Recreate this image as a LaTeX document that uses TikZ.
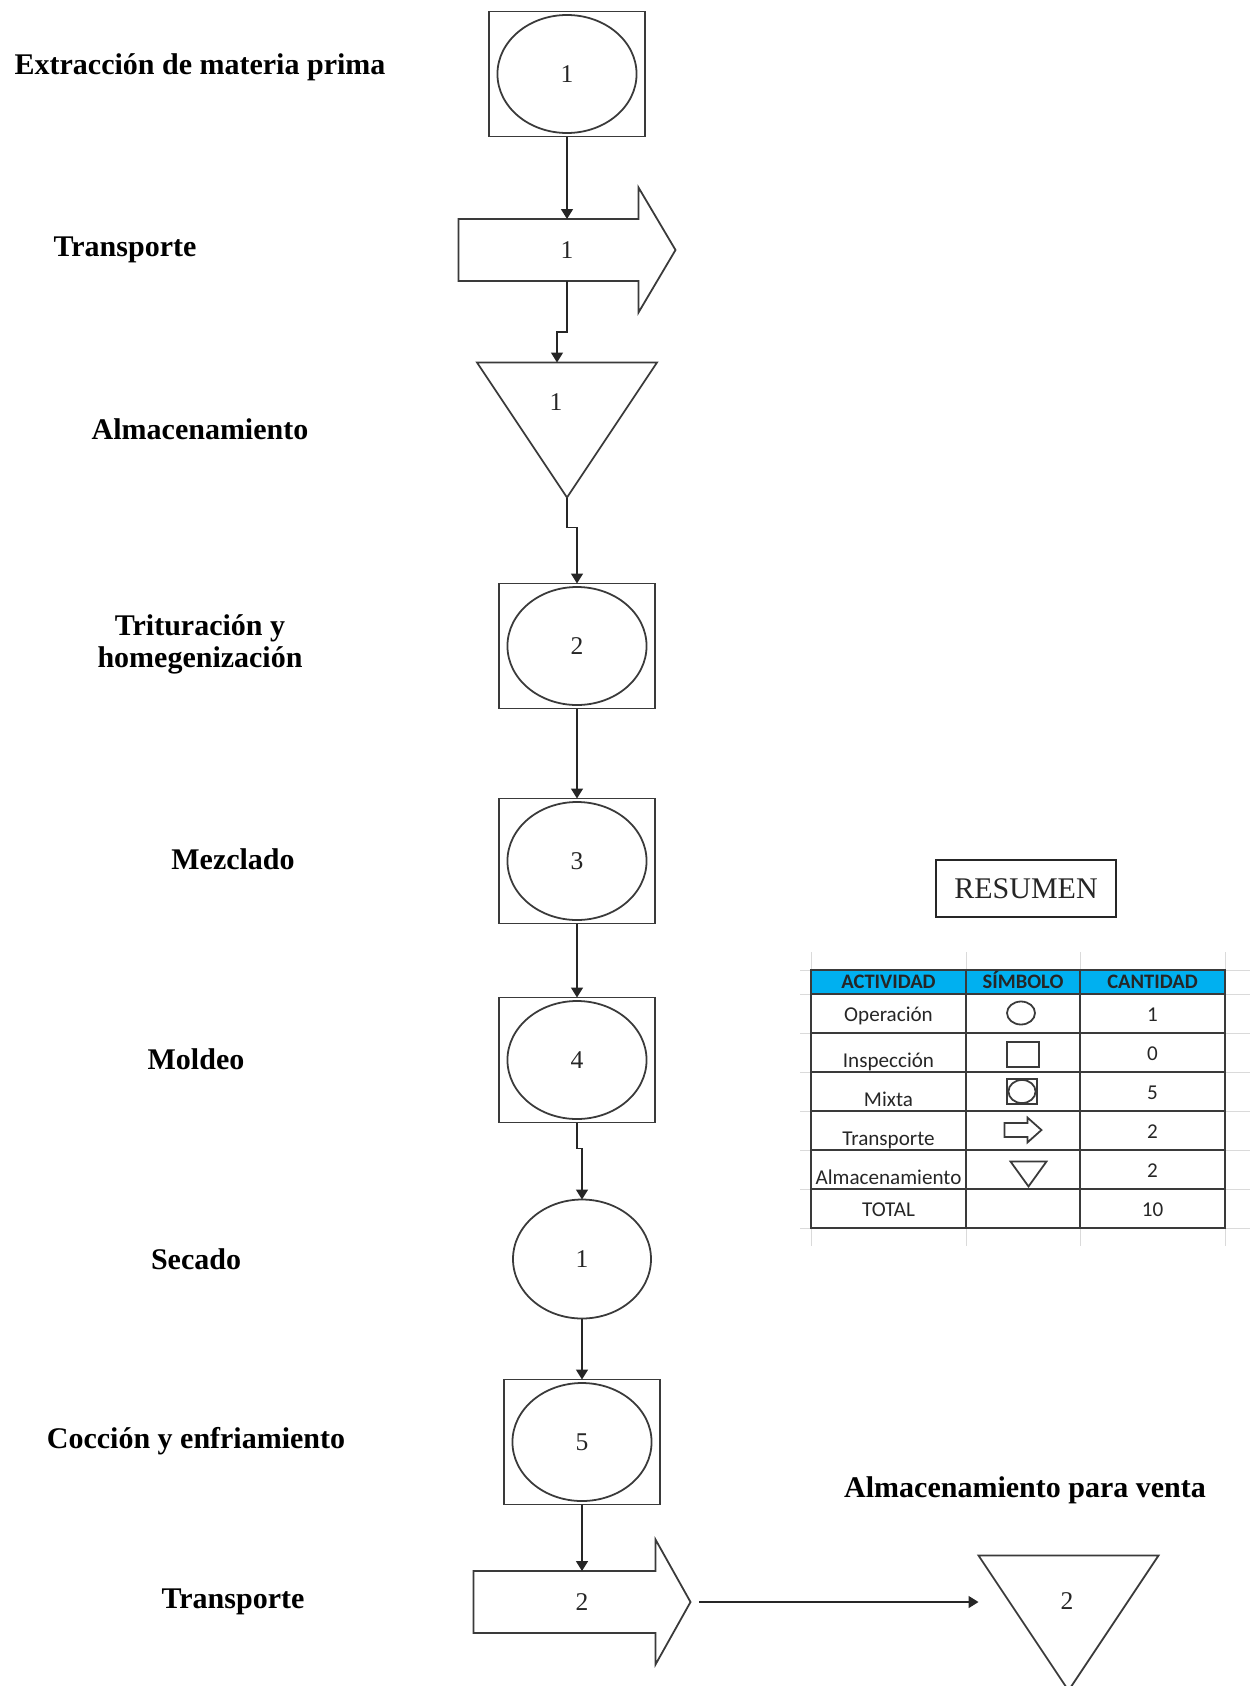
\documentclass[tikz,border=0pt]{standalone}
\usepackage{fontspec}
\setmainfont{Liberation Serif}
\newfontfamily\calibri{Carlito}
\usepackage{tikz}
\usetikzlibrary{positioning,shapes.geometric,arrows.meta,calc}
\definecolor{ink}{HTML}{262626}
\definecolor{outline}{HTML}{3A3A3A}
\definecolor{headblue}{HTML}{00B0F0}
\definecolor{sheetgrey}{HTML}{DADADA}
\tikzset{
    shapeline/.style={draw=outline, line width=0.8pt},
    numtext/.style={font=\fontsize{11.5}{13}\selectfont, text=ink},
    mixta/.style={rectangle, shapeline, minimum width=70.2pt, minimum height=56.25pt, inner sep=0pt, outer sep=0pt, numtext,
        path picture={\draw[shapeline] (path picture bounding box.center) ellipse [x radius=31.3pt, y radius=26.55pt];}},
    oper/.style={ellipse, shapeline, minimum width=62.1pt, minimum height=53.55pt, inner sep=0pt, outer sep=0pt, numtext},
    transp/.style={rectangle, minimum width=97.65pt, minimum height=56.25pt, inner sep=0pt, outer sep=0pt, numtext},
    almac/.style={rectangle, minimum width=81pt, minimum height=60.75pt, inner sep=0pt, outer sep=0pt},
    minioper/.style={ellipse, shapeline, minimum width=12.6pt, minimum height=10.35pt, inner sep=0pt},
    miniinsp/.style={rectangle, shapeline, minimum width=14.4pt, minimum height=11.25pt, inner sep=0pt},
    minimixta/.style={rectangle, shapeline, minimum width=13.5pt, minimum height=11.25pt, inner sep=0pt,
        path picture={\draw[shapeline] (path picture bounding box.center) ellipse [x radius=6.1pt, y radius=5.2pt];}},
    minitransp/.style={rectangle, minimum width=16.2pt, minimum height=10.8pt, inner sep=0pt},
    minialmac/.style={rectangle, minimum width=15.75pt, minimum height=10.8pt, inner sep=0pt},
    lbl/.style={font=\fontsize{13.5}{14.4}\selectfont\bfseries, align=center, text=black},
    sumbox/.style={rectangle, draw=ink, line width=0.8pt, minimum width=81pt, minimum height=25.65pt, font=\fontsize{13.5}{16}\selectfont, text=ink},
    flow/.style={-{Triangle[width=5.4pt,length=4.5pt]}, line width=0.7pt, draw=ink},
    cell/.style={font=\fontsize{9.5}{11}\selectfont\calibri, text=ink, inner sep=0pt, text height=6.8pt, text depth=2pt},
    headcell/.style={cell, font=\fontsize{9.25}{11}\selectfont\calibri\bfseries, text=black!85},
    tabline/.style={draw=outline, line width=0.7pt},
    sheet/.style={draw=sheetgrey, line width=0.4pt}
}
% outline of a block arrow: node, head length, body inset (px)
\newcommand{\transpoutline}[3]{%
    \draw[shapeline] ($(#1.north west)+(0,#3)$) -- ($(#1.north east)+(-#2,#3)$) -- ($(#1.north east)+(-#2,0)$)
        -- (#1.east) -- ($(#1.south east)+(-#2,0)$) -- ($(#1.south east)+(-#2,-#3)$) -- ($(#1.south west)+(0,-#3)$) -- cycle;
    \coordinate (#1-top) at ($(#1.north)+(0,#3)$);
    \coordinate (#1-bot) at ($(#1.south)+(0,-#3)$);}
% outline of a storage triangle
\newcommand{\storeoutline}[1]{%
    \draw[shapeline] (#1.north west) -- (#1.north east) -- (#1.south) -- cycle;}

\begin{document}
\begin{tikzpicture}[x=0.45pt, y=-0.45pt]
    \useasboundingbox (0,0) rectangle (1254,1686);
    \clip (0,0) rectangle (1254,1686);

    % process column
    \node[mixta] (op1) at (567,74) {1};
    \node[transp, below=22.95pt of op1] (tr1) {1};
    \node[almac, below=22.5pt of tr1, label={[numtext, xshift=-4.95pt, yshift=12.4pt]center:1}] (st1) {};
    \node[mixta, below=38.7pt of st1, xshift=4.5pt] (op2) {2};
    \node[mixta, below=40.5pt of op2] (op3) {3};
    \node[mixta, below=33.3pt of op3] (op4) {4};
    \node[oper, below=34.65pt of op4, xshift=2.25pt] (se1) {1};
    \node[mixta, below=27.45pt of se1] (op5) {5};
    \node[transp, below=15.75pt of op5] (tr2) {2};
    \node[almac, right=129.6pt of tr2, yshift=-9.45pt, label={[numtext, xshift=-0.7pt, yshift=9.7pt]center:2}] (st2) {};
    \transpoutline{tr1}{37}{31.5}
    \transpoutline{tr2}{35}{31.5}
    \storeoutline{st1}
    \storeoutline{st2}

    % activity names
    \node[lbl] (l-extr) at (200,67) {Extracción de materia prima};
    \node[lbl] (l-tr1) at (125,250) {Transporte};
    \node[lbl] (l-alm) at (200,429) {Almacenamiento};
    \node[lbl] (l-trit) at (200,644) {Trituración y\\homegenización};
    \node[lbl] (l-mez) at (233,859) {Mezclado};
    \node[lbl] (l-mol) at (196,1059) {Moldeo};
    \node[lbl] (l-sec) at (196,1259) {Secado};
    \node[lbl] (l-coc) at (196,1441) {Cocción y enfriamiento};
    \node[lbl] (l-tr2) at (233,1602) {Transporte};
    \node[lbl] (l-venta) at (1025,1490) {Almacenamiento para venta};

    % connectors
    \draw[flow] (op1.south) -- (op1.south |- tr1-top);
    \draw[flow] (tr1-bot) -- ++(0,51) -| ([xshift=-4.5pt]st1.north);
    \draw[flow] (st1.south) -- ++(0,30) -| (op2.north);
    \draw[flow] (op2) -- (op3);
    \draw[flow] (op3) -- (op4);
    \draw[flow] (op4.south) -- ++(0,26) -| (se1.north);
    \draw[flow] (se1) -- (op5);
    \draw[flow] (op5.south) -- (op5.south |- tr2-top);
    \draw[flow, shorten <=4pt] (tr2.east) -- (tr2.east -| st2.west);

    % summary
    \node[sumbox] (resumen) at (1026,888.5) {RESUMEN};
    \foreach \gx in {811,966,1080,1225} \draw[sheet] (\gx,952) -- (\gx,1246);
    \foreach \gy in {970,994,1033,1072,1111,1150,1189,1228} \draw[sheet] (800,\gy) -- (1250,\gy);
    \fill[headblue] (811,970) rectangle (1225,994);
    \draw[tabline] (811,970) rectangle (1225,1228);
    \foreach \gy in {994,1033,1072,1111,1150,1189} \draw[tabline] (811,\gy) -- (1225,\gy);
    \foreach \gx in {966,1080} \draw[tabline] (\gx,970) -- (\gx,1228);
    \node[headcell] (h-act) at (888.5,983) {ACTIVIDAD};
    \node[headcell] (h-sym) at (1023,983) {SÍMBOLO};
    \node[headcell] (h-qty) at (1152.5,983) {CANTIDAD};
    \foreach \act/\qty/\dy [count=\i] in {Operación/1/3, Inspección/0/10, Mixta/5/10, Transporte/2/10, Almacenamiento/2/10, TOTAL/10/3} {
        \node[cell] (act-\i) at (888.5, {994+39*\i-19.5+\dy}) {\act};
        \node[cell] (qty-\i) at (1152.5, {994+39*\i-16.5}) {\qty};
    }
    \node[minioper] (sym1) at (1021,1013) {};
    \node[miniinsp] (sym2) at (1023,1054.5) {};
    \node[minimixta] (sym3) at (1022,1091.5) {};
    \node[minitransp] (sym4) at (1023,1130) {};
    \node[minialmac] (sym5) at (1028.5,1174) {};
    \transpoutline{sym4}{14}{5.5}
    \storeoutline{sym5}
\end{tikzpicture}
\end{document}
